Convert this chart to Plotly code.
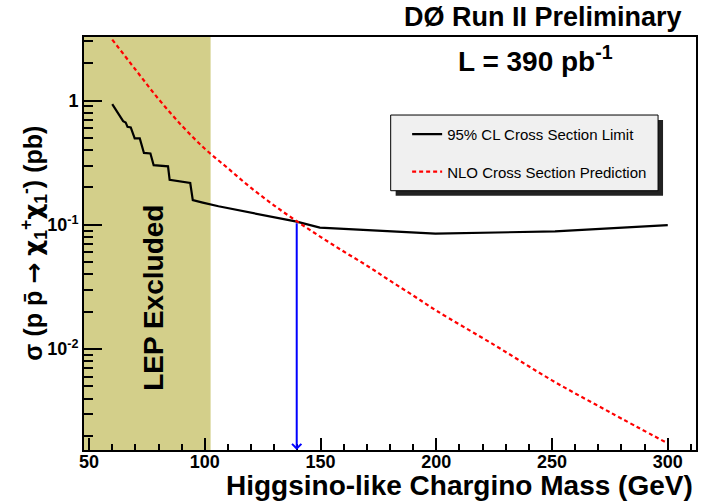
import plotly.graph_objects as go
import numpy as np

# ---------------- data ----------------
# 95% CL cross-section limit (GeV, pb)
limit_mass = [60.0, 64.7, 65.8, 66.6, 68.0, 69.7, 71.9, 73.7, 76.5, 77.9, 84.1, 84.8,
              93.7, 94.8, 99.1, 105.9, 139.7, 149.7, 199.6, 251.3, 300.0]
limit_xsec = [0.937, 0.683, 0.667, 0.615, 0.608, 0.496, 0.496, 0.379, 0.375, 0.302, 0.296, 0.230,
              0.217, 0.158, 0.151, 0.141, 0.106, 0.0949, 0.0849, 0.0886, 0.0996]

# NLO cross-section prediction (GeV, pb)
nlo_mass = [60, 70, 80, 90, 100, 110, 120, 130, 140, 150, 160, 170, 180, 190, 200, 225, 250, 275, 300]
nlo_xsec = [3.1, 1.78, 1.03, 0.63, 0.41, 0.285, 0.198, 0.143, 0.106, 0.080, 0.061, 0.047,
            0.0355, 0.027, 0.0204, 0.0108, 0.0056, 0.0031, 0.00174]

lep_limit = 102.5          # LEP excluded up to this mass
excl_mass = 139.7          # crossing point (mass limit)
excl_xsec = 0.106

x_ticks = [50, 100, 150, 200, 250, 300]
y_ticks = [0.01, 0.1, 1]
y_ticktext = ["10<sup>-2</sup>", "10<sup>-1</sup>", "1"]

x_range = [47.8, 312.2]
y_range = [0.00154, 3.25]

FONT = "Liberation Sans, Arial, Helvetica, sans-serif"
SYM = "DejaVu Sans"

fig = go.Figure()

fig.add_trace(go.Scatter(
    x=limit_mass, y=limit_xsec, mode="lines",
    line=dict(color="black", width=2.2),
    name="95% CL Cross Section Limit", legendgroup="a"))

fig.add_trace(go.Scatter(
    x=nlo_mass, y=nlo_xsec, mode="lines", line_shape="spline",
    line=dict(color="#ff0000", width=2.2, dash="4px,3px"),
    name="NLO Cross Section Prediction", legendgroup="b"))

ylog = [np.log10(v) for v in y_range]

# LEP excluded band
fig.add_shape(type="rect", xref="x", yref="paper", x0=x_range[0], x1=lep_limit, y0=0, y1=1,
              fillcolor="#d3cf8a", line_width=0, layer="below")

# legend box + shadow (paper coords)
lx0, lx1, ly0, ly1 = 0.5011, 0.938, 0.6278, 0.8111
dx, dy = 5 / 614, 5 / 413
fig.add_shape(type="rect", xref="paper", yref="paper", x0=lx0 + dx, x1=lx1 + dx, y0=ly0 - dy, y1=ly1 - dy,
              fillcolor="#222222", line_width=0, layer="above")
fig.add_shape(type="rect", xref="paper", yref="paper", x0=lx0, x1=lx1, y0=ly0, y1=ly1,
              fillcolor="#f0f0f0", line=dict(color="black", width=1), layer="above")

# blue arrow
fig.add_annotation(x=excl_mass, y=ylog[0], ax=excl_mass, ay=np.log10(excl_xsec),
                   xref="x", yref="y", axref="x", ayref="y", text="", showarrow=True,
                   arrowhead=4, arrowsize=0.9, arrowwidth=2, arrowcolor="#0000ff", standoff=0)

# texts
fig.add_annotation(text="<b>LEP Excluded</b>", xref="paper", yref="paper", x=0.1124, y=0.368,
                   textangle=-90, showarrow=False, font=dict(family=FONT, size=28, color="black"),
                   xanchor="center", yanchor="middle")
fig.add_annotation(text="<b>L = 390 pb<sup>-1</sup></b>", xref="paper", yref="paper",
                   x=(537 - 84) / 614, y=(450 - 59) / 413, showarrow=False,
                   font=dict(family=FONT, size=28, color="black"), xanchor="center", yanchor="middle")
fig.add_annotation(text="<b>DØ Run II Preliminary</b>", xref="paper", yref="paper",
                   x=(686 - 84) / 614, y=(450 - 17) / 413, showarrow=False,
                   font=dict(family=FONT, size=27, color="black"), xanchor="right", yanchor="middle")
fig.add_annotation(text="<b>Higgsino-like Chargino Mass (GeV)</b>", xref="paper", yref="paper",
                   x=(697 - 84) / 614, y=(450 - 485) / 413, showarrow=False,
                   font=dict(family=FONT, size=28, color="black"), xanchor="right", yanchor="middle")
chi = f"<span style='font-family:{SYM}'>χ</span>"
arrow = f"<span style='font-family:{SYM}'>→</span>"
ytitle = (f"<b>σ (p p\u0304 {arrow} {chi}<sub>1</sub><sup>+</sup>{chi}<sub>1</sub><sup>-</sup>) (pb)</b>")
fig.add_annotation(text=ytitle, xref="paper", yref="paper", x=(33 - 84) / 614, y=0.5,
                   textangle=-90, showarrow=False,
                   font=dict(family=FONT, size=25, color="black"), xanchor="center", yanchor="middle")

minor_y = [d * 10.0 ** e for e in (-3, -2, -1, 0) for d in range(2, 10)]
minor_y = [v for v in minor_y if y_range[0] <= v <= y_range[1]]

fig.update_layout(
    width=701, height=504,
    margin=dict(l=84, r=3, t=37, b=54),
    paper_bgcolor="white", plot_bgcolor="white",
    font=dict(family=FONT, color="black"),
    showlegend=True,
    legend=dict(x=0.528, y=0.804, xanchor="left", yanchor="top",
                bgcolor="rgba(0,0,0,0)", borderwidth=0,
                font=dict(family=FONT, size=15, color="black"),
                tracegroupgap=15, traceorder="grouped"),
    xaxis=dict(range=x_range, tickvals=x_ticks, ticks="inside", ticklen=12, tickwidth=1.5,
               tickcolor="black", showgrid=False, zeroline=False, showline=True, linecolor="black",
               linewidth=2, mirror=True, ticklabelstandoff=-6,
               tickfont=dict(family=FONT, size=18, weight="bold"),
               minor=dict(dtick=10, tick0=0, ticks="inside", ticklen=6, tickcolor="black", showgrid=False)),
    yaxis=dict(type="log", range=ylog, tickvals=y_ticks, ticktext=y_ticktext, ticks="inside",
               ticklen=18, tickwidth=1.5, tickcolor="black", showgrid=False, zeroline=False,
               showline=True, linecolor="black", linewidth=2, mirror=True,
               tickfont=dict(family=FONT, size=18, weight="bold"),
               minor=dict(tickmode="array", tickvals=minor_y, ticks="inside", ticklen=9,
                          tickcolor="black", showgrid=False)),
)

fig.write_html("out.html")
